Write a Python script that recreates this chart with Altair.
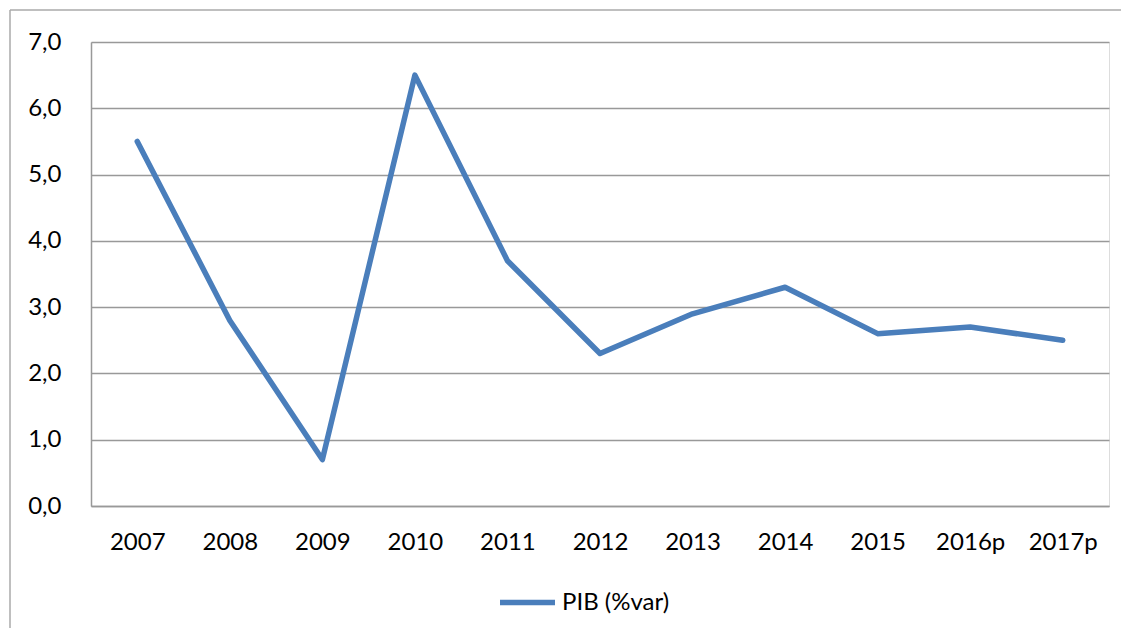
import altair as alt
import pandas as pd

years = ["2007", "2008", "2009", "2010", "2011", "2012", "2013", "2014", "2015", "2016p", "2017p"]
pib = [5.5, 2.8, 0.7, 6.5, 3.7, 2.3, 2.9, 3.3, 2.6, 2.7, 2.5]
series_name = "PIB (%var)"

df = pd.DataFrame({"year": years, "value": pib, "serie": [series_name] * len(years)})

FONT = "Lato"
GRID = "#999999"
FS = 24

line = alt.Chart(df).mark_line(strokeWidth=5.5, strokeCap="round", strokeJoin="round").encode(
    x=alt.X("year:O", sort=years, title=None,
            axis=alt.Axis(labelAngle=0, ticks=False, domain=True, domainColor=GRID, domainWidth=1.5,
                          labelPadding=24, labelFontSize=FS, labelFont=FONT, labelColor="#000",
                          grid=False)),
    y=alt.Y("value:Q", title=None, scale=alt.Scale(domain=[0, 7], nice=False),
            axis=alt.Axis(values=[0, 1, 2, 3, 4, 5, 6, 7], ticks=False, domain=True,
                          domainColor=GRID, domainWidth=1.5, gridColor=GRID, gridWidth=1.5,
                          labelPadding=30, labelFontSize=FS, labelFont=FONT, labelColor="#000",
                          labelExpr="replace(format(datum.value, '.1f'), '.', ',')")),
    color=alt.Color("serie:N", scale=alt.Scale(range=["#4a7ebb"]),
                    legend=alt.Legend(title=None, orient="none", legendX=406, legendY=530,
                                      symbolType="stroke", symbolSize=3025, symbolStrokeWidth=5.5,
                                      labelFontSize=FS, labelFont=FONT, labelColor="#000",
                                      labelOffset=4)),
)

blank = alt.Data(values=[{}])
border_v = alt.Chart(blank).mark_rule(color="#aaaaaa", strokeWidth=1.5).encode(
    x=alt.value(-81), y=alt.value(-32), y2=alt.value(700))
border_h = alt.Chart(blank).mark_rule(color="#aaaaaa", strokeWidth=1.5).encode(
    x=alt.value(-81), x2=alt.value(1100), y=alt.value(-32))

chart = alt.layer(border_v, border_h, line).properties(
    width=1018, height=464,
    autosize=alt.AutoSizeParams(type="none"),
    padding={"left": 83, "top": 34, "right": 12, "bottom": 122},
).configure_view(stroke=None).configure(background="white")

chart.save("out.html", embed_options={"renderer": "svg", "actions": False})
